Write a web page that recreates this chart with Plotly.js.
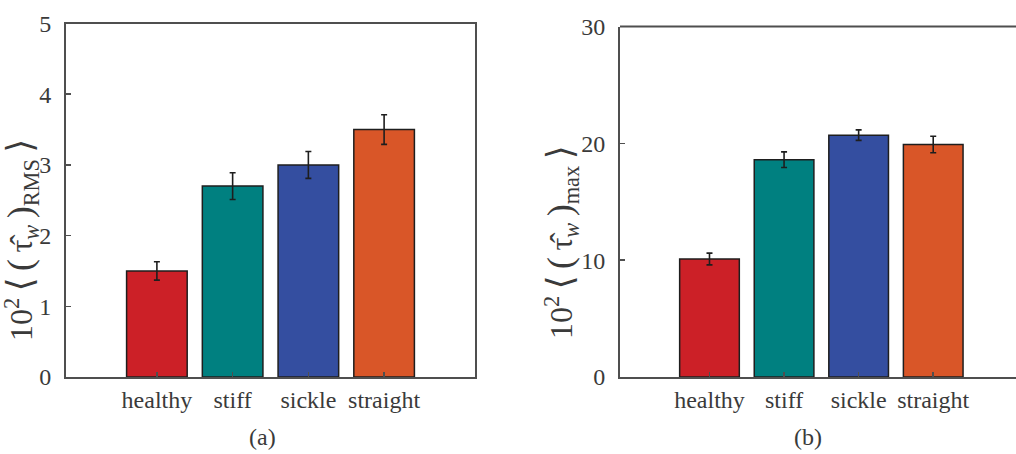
<!DOCTYPE html>
<html>
<head>
<meta charset="utf-8">
<script src="https://cdn.plot.ly/plotly-3.0.1.min.js"></script>
<style>
  html, body { margin: 0; padding: 0; background: #fff; }
  #chart { width: 1016px; height: 454px; }
</style>
</head>
<body>
<div id="chart"></div>
<script>
// Wall shear stress statistics for the four cell configurations
const categories = ['healthy', 'stiff', 'sickle', 'straight'];
const barColors = ['#CC2027', '#008080', '#344EA0', '#D95628'];

// (a) RMS of wall shear stress, scaled by 10^2
const rmsValues = [1.5, 2.7, 3.0, 3.5];
const rmsErrors = [0.13, 0.19, 0.19, 0.21];

// (b) maximum of wall shear stress, scaled by 10^2
const maxValues = [10.1, 18.6, 20.7, 19.9];
const maxErrors = [0.5, 0.67, 0.45, 0.7];

const rmsTicks = [0, 1, 2, 3, 4, 5];
const maxTicks = [0, 10, 20, 30];

const W = 1016, H = 454;
const serif = '"Liberation Serif", "DejaVu Serif", serif';
const axisGray = '#4f4f4f';
const textGray = '#3a3a3a';

function barTrace(values, errors, xa, ya) {
  return {
    type: 'bar',
    x: categories,
    y: values,
    xaxis: xa,
    yaxis: ya,
    width: 0.8,
    marker: { color: barColors, line: { color: '#1e1e1e', width: 1.5 } },
    error_y: { type: 'data', array: errors, visible: true, color: '#1e1e1e', thickness: 1.6, width: 3 },
    hoverinfo: 'x+y',
    showlegend: false
  };
}

// axis label built with enlarged delimiters
function shearLabel(sub) {
  const big = s => '<span style="font-size:36px">' + s + '</span>';
  const sp = '\u2009';
  return '10<sup>2</sup>' + sp + big('⟨') + sp + big('(') + sp + 'τ̂<sub><i>w</i></sub>' + sp +
    big(')') + '<sub>' + sub + '</sub>' + sp + big('⟩');
}

const px = v => v / W;
const py = v => 1 - v / H;

const xBase = {
  type: 'category',
  showgrid: false,
  zeroline: false,
  showline: true,
  linecolor: axisGray,
  linewidth: 2,
  ticks: 'inside',
  ticklen: 5,
  tickwidth: 1.5,
  tickcolor: axisGray,
  tickfont: { family: serif, size: 24, color: textGray },
  fixedrange: true
};
const yBase = {
  showgrid: false,
  zeroline: false,
  showline: true,
  linecolor: axisGray,
  linewidth: 2,
  ticks: 'inside',
  ticklen: 5,
  tickwidth: 1.5,
  tickcolor: axisGray,
  ticklabelstandoff: 8,
  tickfont: { family: serif, size: 24, color: textGray },
  fixedrange: true
};

const layout = {
  width: W,
  height: H,
  margin: { l: 0, r: 0, t: 0, b: 0 },
  paper_bgcolor: '#ffffff',
  plot_bgcolor: '#ffffff',
  font: { family: serif, color: textGray },
  bargap: 0.2,
  xaxis: Object.assign({}, xBase, {
    domain: [px(66), px(475)],
    range: [-1.2, 4.2],
    mirror: true,
    anchor: 'y'
  }),
  yaxis: Object.assign({}, yBase, {
    domain: [py(377), py(23.5)],
    range: [0, 5],
    tickvals: rmsTicks,
    mirror: true,
    anchor: 'x'
  }),
  xaxis2: Object.assign({}, xBase, {
    domain: [px(620), 1],
    range: [-1.2, 4.11],
    anchor: 'y2'
  }),
  yaxis2: Object.assign({}, yBase, {
    domain: [py(377), py(26.5)],
    range: [0, 30],
    tickvals: maxTicks,
    anchor: 'x2'
  }),
  shapes: [
    // top edge of the right-hand box, which runs off the page on the right
    { type: 'line', xref: 'x2 domain', yref: 'y2 domain', x0: 0, x1: 1, y0: 1, y1: 1,
      line: { color: axisGray, width: 2 } }
  ],
  annotations: [
    { text: shearLabel('RMS'),
      xref: 'paper', yref: 'paper', x: px(21), y: py(240),
      textangle: -90, showarrow: false, xanchor: 'center', yanchor: 'middle',
      font: { family: serif, size: 32, color: textGray } },
    { text: shearLabel('max'),
      xref: 'paper', yref: 'paper', x: px(561), y: py(242),
      textangle: -90, showarrow: false, xanchor: 'center', yanchor: 'middle',
      font: { family: serif, size: 32, color: textGray } },
    { text: '(a)', xref: 'paper', yref: 'paper', x: px(262), y: py(437),
      showarrow: false, xanchor: 'center', yanchor: 'middle',
      font: { family: serif, size: 24, color: textGray } },
    { text: '(b)', xref: 'paper', yref: 'paper', x: px(808), y: py(437),
      showarrow: false, xanchor: 'center', yanchor: 'middle',
      font: { family: serif, size: 24, color: textGray } }
  ]
};

Plotly.newPlot('chart', [
  barTrace(rmsValues, rmsErrors, 'x', 'y'),
  barTrace(maxValues, maxErrors, 'x2', 'y2')
], layout, { displayModeBar: false, staticPlot: true });
</script>
</body>
</html>
